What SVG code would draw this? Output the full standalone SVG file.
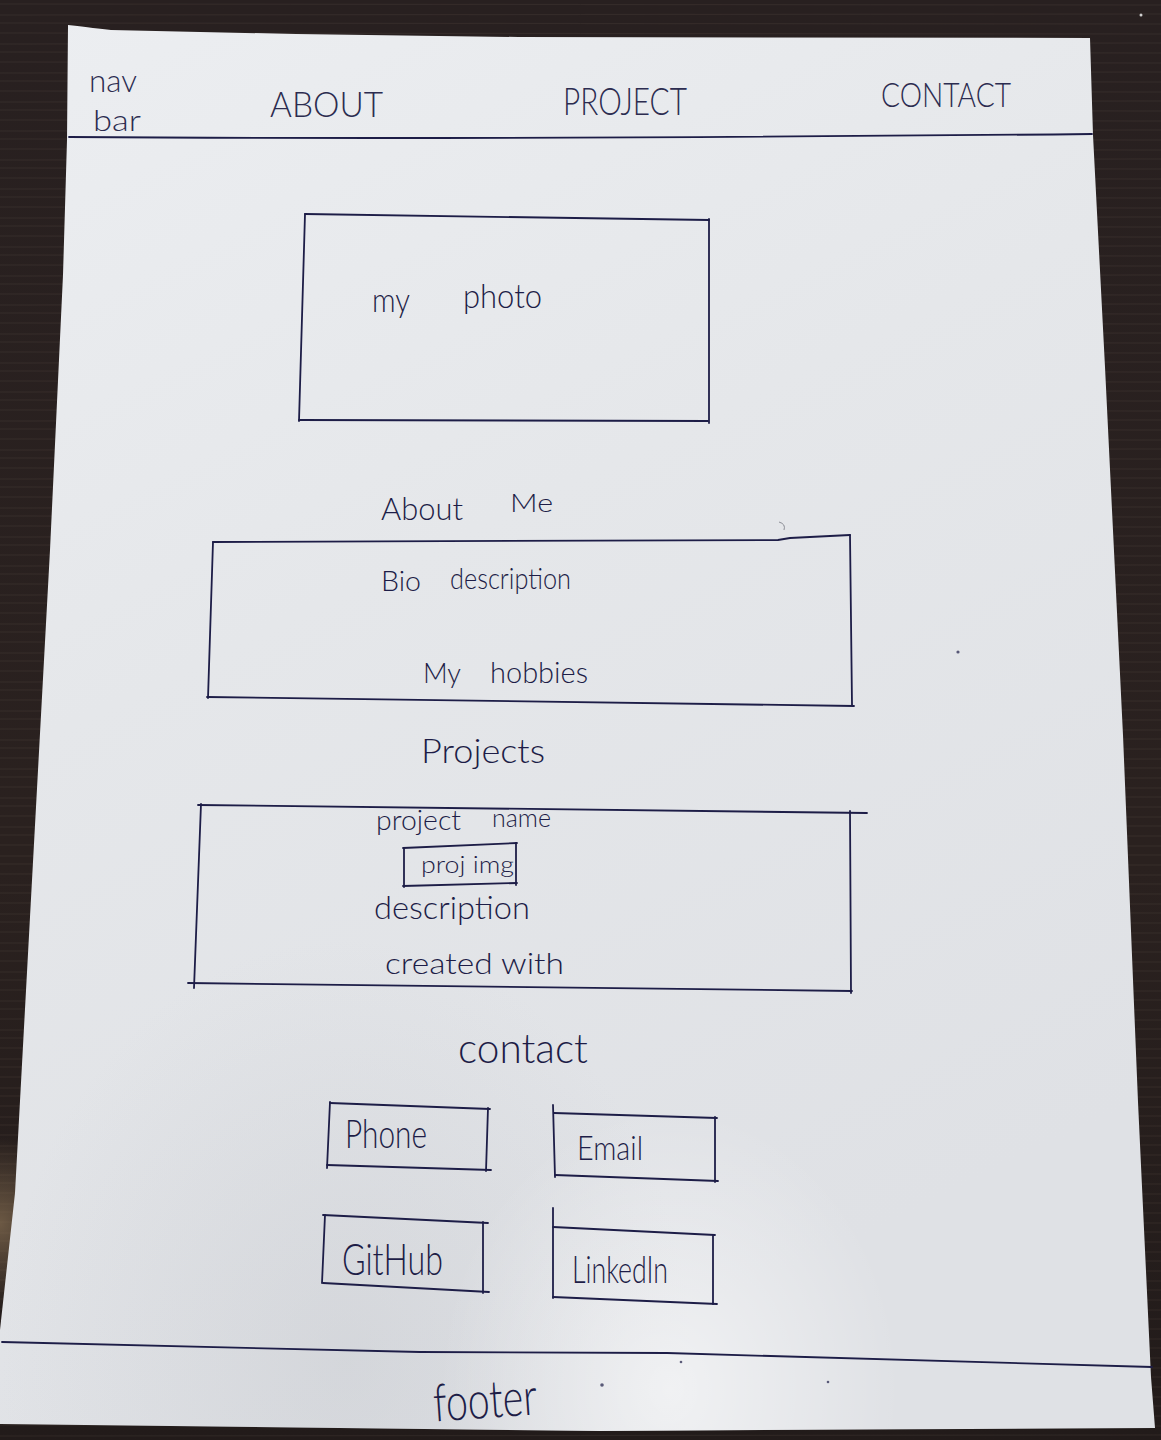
<svg xmlns="http://www.w3.org/2000/svg" width="1161" height="1440" viewBox="0 0 1161 1440">
  <defs>
    <style>
      .ink{fill:none;stroke:#1d1d47;stroke-width:1.8;stroke-linecap:round;stroke-linejoin:round}
      .hand{font-family:Lato,'Liberation Sans',sans-serif;font-weight:300;fill:#1d1d47}
      .nav{fill:#2c2c50}
      .grain{stroke:#8c7a6a;stroke-width:1;opacity:0.12}
    </style>
    <linearGradient id="wood" x1="0" y1="0" x2="0" y2="1">
      <stop offset="0" stop-color="#282020"/>
      <stop offset="0.6" stop-color="#2a211f"/>
      <stop offset="1" stop-color="#221b1a"/>
    </linearGradient>
    <radialGradient id="woodLight" cx="0" cy="0.85" r="0.06">
      <stop offset="0" stop-color="#8a7255" stop-opacity="0.7"/>
      <stop offset="1" stop-color="#8a7255" stop-opacity="0"/>
    </radialGradient>
    <pattern id="grainPat" width="1161" height="29" patternUnits="userSpaceOnUse">
      <line class="grain" x1="0" y1="4" x2="1161" y2="5"/>
      <line class="grain" x1="0" y1="15" x2="1161" y2="14" opacity="0.07"/>
      <line class="grain" x1="0" y1="23" x2="1161" y2="24" opacity="0.1"/>
    </pattern>
    <linearGradient id="paper" x1="0" y1="0" x2="0.4" y2="1">
      <stop offset="0" stop-color="#eceef1"/>
      <stop offset="0.45" stop-color="#e5e7ea"/>
      <stop offset="1" stop-color="#dfe1e5"/>
    </linearGradient>
    <radialGradient id="glow" cx="0.58" cy="0.97" r="0.2">
      <stop offset="0" stop-color="#ffffff" stop-opacity="0.55"/>
      <stop offset="1" stop-color="#ffffff" stop-opacity="0"/>
    </radialGradient>
    <radialGradient id="shade" cx="0.3" cy="0.95" r="0.3">
      <stop offset="0" stop-color="#b9bcc2" stop-opacity="0.3"/>
      <stop offset="1" stop-color="#b9bcc2" stop-opacity="0"/>
    </radialGradient>
  </defs>

  <!-- table -->
  <rect width="1161" height="1440" fill="url(#wood)"/>
  <rect width="1161" height="1440" fill="url(#grainPat)"/>
  <rect width="1161" height="1440" fill="url(#woodLight)"/>

  <!-- sheet of paper -->
  <g id="sheet">
    <path d="M68,25 C88,27 100,29 111,30 L296,34 L518,37 L1090,38 L1093,135 L1105,367 L1123,735 L1138,1102 L1151,1377 L1155,1428 L600,1431 L0,1424 L0,1330 L15,1193 L30,917 L50,550 L63,275 L67,140 Z" fill="url(#paper)"/>
    <path d="M68,25 C88,27 100,29 111,30 L296,34 L518,37 L1090,38 L1093,135 L1105,367 L1123,735 L1138,1102 L1151,1377 L1155,1428 L600,1431 L0,1424 L0,1330 L15,1193 L30,917 L50,550 L63,275 L67,140 Z" fill="url(#shade)"/>
    <path d="M68,25 C88,27 100,29 111,30 L296,34 L518,37 L1090,38 L1093,135 L1105,367 L1123,735 L1138,1102 L1151,1377 L1155,1428 L600,1431 L0,1424 L0,1330 L15,1193 L30,917 L50,550 L63,275 L67,140 Z" fill="url(#glow)"/>
  </g>

  <!-- navigation bar -->
  <g id="navbar">
    <text class="hand nav" x="89" y="92" font-size="32" textLength="48" lengthAdjust="spacingAndGlyphs">nav</text>
    <text class="hand nav" x="93" y="131" font-size="30" textLength="48" lengthAdjust="spacingAndGlyphs">bar</text>
    <text class="hand nav" x="270" y="117" font-size="35" textLength="113" lengthAdjust="spacingAndGlyphs">ABOUT</text>
    <text class="hand nav" x="563" y="115" font-size="37" textLength="124" lengthAdjust="spacingAndGlyphs">PROJECT</text>
    <text class="hand nav" x="881" y="107" font-size="33" textLength="130" lengthAdjust="spacingAndGlyphs">CONTACT</text>
    <path class="ink" d="M69,137 Q500,140 1092,134"/>
  </g>

  <!-- photo placeholder -->
  <g id="photo">
    <path class="ink" d="M305,214 L709,220"/>
    <path class="ink" d="M709,219 L709,423"/>
    <path class="ink" d="M299,420 L708,421"/>
    <path class="ink" d="M305,214 L299,421"/>
    <text class="hand" x="372" y="312" font-size="34" textLength="38" lengthAdjust="spacingAndGlyphs">my</text>
    <text class="hand" x="463" y="308" font-size="34" textLength="79" lengthAdjust="spacingAndGlyphs">photo</text>
  </g>

  <!-- about section -->
  <g id="about">
    <text class="hand" x="381" y="520" font-size="31" textLength="82" lengthAdjust="spacingAndGlyphs">About</text>
    <text class="hand" x="510" y="512" font-size="25" textLength="43" lengthAdjust="spacingAndGlyphs">Me</text>
    <path class="ink" d="M213,542 L778,540 L790,538 L850,535"/>
    <path class="ink" d="M850,535 L852,705"/>
    <path class="ink" d="M207,697 L854,706"/>
    <path class="ink" d="M213,542 L208,698"/>
    <text class="hand" x="381" y="591" font-size="28" textLength="40" lengthAdjust="spacingAndGlyphs">Bio</text>
    <text class="hand" x="450" y="589" font-size="30" textLength="121" lengthAdjust="spacingAndGlyphs">description</text>
    <text class="hand" x="423" y="683" font-size="27" textLength="38" lengthAdjust="spacingAndGlyphs">My</text>
    <text class="hand" x="490" y="683" font-size="29" textLength="98" lengthAdjust="spacingAndGlyphs">hobbies</text>
  </g>

  <!-- projects section -->
  <g id="projects">
    <text class="hand" x="421" y="763" font-size="33" textLength="124" lengthAdjust="spacingAndGlyphs">Projects</text>
    <path class="ink" d="M198,805 L867,813"/>
    <path class="ink" d="M201,804 L194,988"/>
    <path class="ink" d="M188,983 L852,991"/>
    <path class="ink" d="M850,811 L851,993"/>
    <text class="hand" x="376" y="830" font-size="27" textLength="85" lengthAdjust="spacingAndGlyphs">project</text>
    <text class="hand" x="492" y="827" font-size="26" textLength="59" lengthAdjust="spacingAndGlyphs">name</text>
  </g>

  <g id="proj-img">
    <path class="ink" d="M403,848 L517,843"/>
    <path class="ink" d="M516,843 L516,885"/>
    <path class="ink" d="M403,886 L517,883"/>
    <path class="ink" d="M404,848 L404,887"/>
    <text class="hand" x="421" y="873" font-size="24" textLength="93" lengthAdjust="spacingAndGlyphs">proj img</text>
  </g>

  <g id="project-details">
    <text class="hand" x="374" y="919" font-size="31" textLength="156" lengthAdjust="spacingAndGlyphs">description</text>
    <text class="hand" x="385" y="974" font-size="30" textLength="179" lengthAdjust="spacingAndGlyphs">created with</text>
  </g>

  <!-- contact section -->
  <g id="contact">
    <text class="hand" x="458" y="1063" font-size="42" textLength="130" lengthAdjust="spacingAndGlyphs">contact</text>
  </g>

  <g id="phone">
    <path class="ink" d="M330,1103 L490,1109"/>
    <path class="ink" d="M330,1102 L327,1168"/>
    <path class="ink" d="M327,1165 L491,1170"/>
    <path class="ink" d="M488,1108 L486,1171"/>
    <text class="hand" x="345" y="1148" font-size="40" textLength="82" lengthAdjust="spacingAndGlyphs">Phone</text>
  </g>

  <g id="email">
    <path class="ink" d="M553,1105 L555,1177"/>
    <path class="ink" d="M554,1113 L717,1118"/>
    <path class="ink" d="M715,1117 L715,1182"/>
    <path class="ink" d="M555,1175 L718,1181"/>
    <text class="hand" x="577" y="1160" font-size="34" textLength="66" lengthAdjust="spacingAndGlyphs">Email</text>
  </g>

  <g id="github">
    <path class="ink" d="M323,1215 L488,1223"/>
    <path class="ink" d="M325,1215 L322,1283"/>
    <path class="ink" d="M483,1222 L483,1293"/>
    <path class="ink" d="M323,1283 L489,1292"/>
    <text class="hand" x="342" y="1275" font-size="44" textLength="101" lengthAdjust="spacingAndGlyphs">GitHub</text>
  </g>

  <g id="linkedin">
    <path class="ink" d="M553,1208 L553,1298"/>
    <path class="ink" d="M553,1227 L715,1235"/>
    <path class="ink" d="M713,1235 L713,1304"/>
    <path class="ink" d="M553,1297 L717,1304"/>
    <text class="hand" x="572" y="1283" font-size="38" textLength="96" lengthAdjust="spacingAndGlyphs">LinkedIn</text>
  </g>

  <!-- footer -->
  <g id="footer">
    <path class="ink" d="M2,1342 C200,1346 380,1352 420,1352 L667,1353 C800,1356 950,1362 1152,1367"/>
    <text class="hand" x="433" y="1418" font-size="52" textLength="104" lengthAdjust="spacingAndGlyphs" transform="rotate(-4 485 1400)">footer</text>
  </g>

  <!-- stray pen marks -->
  <g fill="#1d1d47" opacity="0.7">
    <circle cx="958" cy="652" r="1.6"/>
    <circle cx="602" cy="1385" r="1.8"/>
    <circle cx="681" cy="1362" r="1.3"/>
    <circle cx="828" cy="1382" r="1.3"/>
  </g>
  <path d="M779,522 Q786,524 784,530" fill="none" stroke="#8c8e96" stroke-width="1"/>
  <circle cx="1141" cy="15" r="1.5" fill="#cfcfcf"/>
</svg>
